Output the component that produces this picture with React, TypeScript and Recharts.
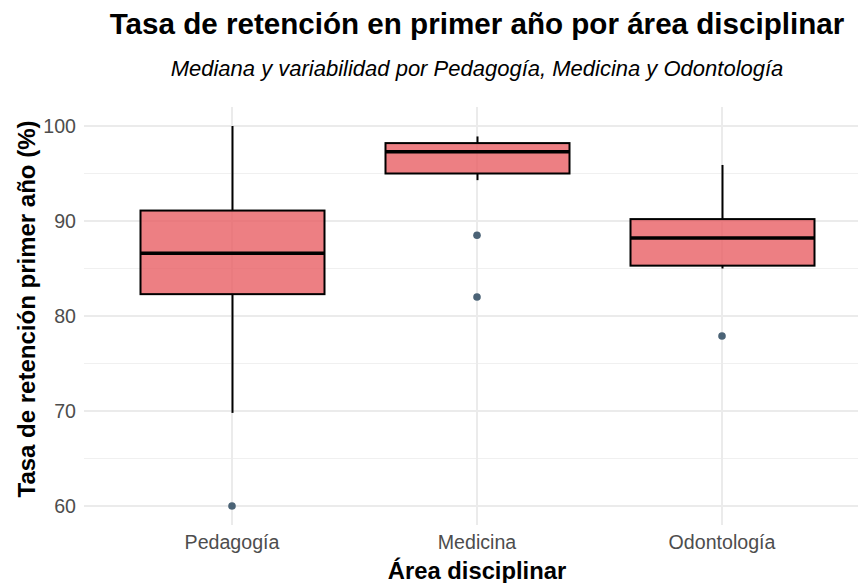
import React from 'react';
import {
  ComposedChart,
  Bar,
  Scatter,
  XAxis,
  YAxis,
  CartesianGrid,
} from 'recharts';

// ─── Data ───────────────────────────────────────────────
const areas = ['Pedagogía', 'Medicina', 'Odontología'];
const minimos = [69.8, 94.3, 85.0];
const cuartil1 = [82.3, 95.0, 85.3];
const medianas = [86.6, 97.3, 88.2];
const cuartil3 = [91.1, 98.2, 90.2];
const maximos = [100, 98.9, 95.9];
const atipico1: (number | null)[] = [60, 88.5, 77.9];
const atipico2: (number | null)[] = [null, 82.0, null];

const yTicks = [60, 70, 80, 90, 100];
const yMinor = [65, 75, 85, 95];

const data = areas.map((area, i) => ({
  area,
  bigoteBajo: [minimos[i], cuartil1[i]],
  bigoteAlto: [cuartil3[i], maximos[i]],
  caja: [cuartil1[i], cuartil3[i]],
  mediana: medianas[i],
  out1: atipico1[i],
  out2: atipico2[i],
}));

const W = 858;
const H = 583;
const FONT = '"Liberation Sans", Arial, sans-serif';
const BOX_W = 184;
const xPad = { left: 25.5, right: 13.5 };

// ─── Shapes ─────────────────────────────────────────────
const Whisker = (props: any) => {
  const { x, y, width, height } = props;
  const cx = x + width / 2;
  return <line x1={cx} x2={cx} y1={y} y2={y + height} stroke="#000" strokeWidth={2} />;
};

const BoxShape = (props: any) => {
  const { x, y, width, height } = props;
  return (
    <rect
      x={x}
      y={y}
      width={width}
      height={height}
      fill="#E85F64"
      fillOpacity={0.8}
      stroke="#000"
      strokeWidth={2}
    />
  );
};

const MedianShape = (props: any) => {
  const { cx, cy } = props;
  return (
    <line x1={cx - BOX_W / 2} x2={cx + BOX_W / 2} y1={cy} y2={cy} stroke="#000" strokeWidth={3.5} />
  );
};

const outlierShape = (key: string) => (props: any) => {
  const { cx, cy, payload } = props;
  if (payload == null || payload[key] == null || !isFinite(cy)) return <g />;
  return <circle cx={cx} cy={cy} r={3.8} fill="#4B6376" />;
};

export default function App() {
  return (
    <div style={{ position: 'absolute', left: 0, top: 0, width: W, height: H, background: '#fff' }}>
      <ComposedChart
        width={W}
        height={H}
        data={data}
        margin={{ top: 107, right: 0, bottom: 0, left: 0 }}
      >
        <CartesianGrid
          vertical={false}
          horizontalValues={yMinor}
          syncWithTicks
          stroke="#f0f0f0"
          strokeWidth={1}
        />
        <CartesianGrid syncWithTicks stroke="#ebebeb" strokeWidth={2} />
        <XAxis
          dataKey="area"
          height={58}
          padding={xPad}
          tickLine={false}
          axisLine={false}
          tick={{ fill: '#4d4d4d', fontSize: 19.6, fontFamily: FONT }}
          tickMargin={4}
        />
        <XAxis xAxisId="lo" dataKey="area" hide padding={xPad} />
        <XAxis xAxisId="hi" dataKey="area" hide padding={xPad} />
        <XAxis xAxisId="box" dataKey="area" hide padding={xPad} />
        <YAxis
          type="number"
          domain={[58, 102]}
          ticks={yTicks}
          width={84}
          allowDataOverflow
          tickLine={false}
          axisLine={false}
          tick={{ fill: '#4d4d4d', fontSize: 19.6, fontFamily: FONT }}
        />
        <Bar xAxisId="lo" dataKey="bigoteBajo" barSize={10} shape={Whisker} isAnimationActive={false} />
        <Bar xAxisId="hi" dataKey="bigoteAlto" barSize={10} shape={Whisker} isAnimationActive={false} />
        <Bar xAxisId="box" dataKey="caja" barSize={BOX_W} shape={BoxShape} isAnimationActive={false} />
        <Scatter dataKey="mediana" shape={MedianShape} isAnimationActive={false} />
        <Scatter dataKey="out1" shape={outlierShape('out1')} isAnimationActive={false} />
        <Scatter dataKey="out2" shape={outlierShape('out2')} isAnimationActive={false} />
      </ComposedChart>

      {/* Titles */}
      <svg
        width={W}
        height={H}
        style={{ position: 'absolute', left: 0, top: 0, pointerEvents: 'none' }}
        fontFamily={FONT}
      >
        <text x={477} y={34} textAnchor="middle" fontSize={29.6} fontWeight="bold" fill="#000">
          Tasa de retención en primer año por área disciplinar
        </text>
        <text x={477} y={76} textAnchor="middle" fontSize={22} fontStyle="italic" fill="#000">
          Mediana y variabilidad por Pedagogía, Medicina y Odontología
        </text>
        <text x={477} y={579} textAnchor="middle" fontSize={23.8} fontWeight="bold" fill="#000">
          Área disciplinar
        </text>
        <text
          transform="translate(35,309) rotate(-90)"
          textAnchor="middle"
          fontSize={24}
          fontWeight="bold"
          fill="#000"
        >
          Tasa de retención primer año (%)
        </text>
      </svg>
    </div>
  );
}
